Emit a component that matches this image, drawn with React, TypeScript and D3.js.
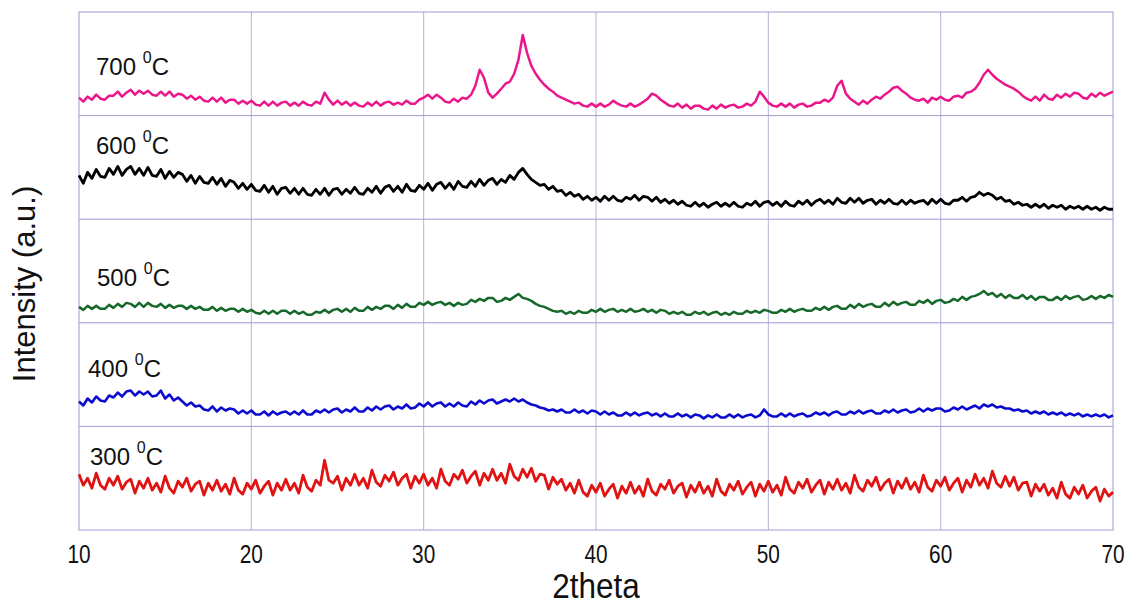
import React from 'react';
import * as d3 from 'd3';

// 2theta sampling: starts at 10°, every 0.25°, up to 70°
const THETA_START = 10;
const THETA_STEP = 0.25;
const xTicks = [10, 20, 30, 40, 50, 60, 70];
const panelLabels = ['700', '600', '500', '400', '300'];
const panelColors = ['#ec168c', '#000000', '#17692a', '#0b0bcf', '#e01212'];

const s700 = [
  18, 14, 19, 16, 21, 17, 16, 20, 20, 24, 19, 23, 26, 21, 25, 22, 25, 21, 20, 24,
  20, 24, 19, 22, 21, 17, 20, 16, 19, 15, 14, 18, 14, 18, 13, 16, 16, 12, 15, 12,
  15, 11, 10, 14, 10, 14, 10, 13, 14, 10, 13, 10, 14, 11, 10, 14, 12, 23, 16, 11,
  15, 11, 14, 10, 13, 10, 9, 13, 10, 14, 10, 13, 14, 11, 13, 11, 15, 12, 12, 16,
  18, 21, 17, 21, 18, 14, 13, 17, 14, 18, 17, 21, 30, 46, 38, 23, 18, 22, 27, 32,
  34, 42, 56, 81, 63, 50, 42, 36, 31, 27, 24, 20, 18, 16, 14, 12, 13, 10, 9, 12,
  9, 12, 9, 11, 15, 12, 10, 9, 12, 9, 11, 14, 17, 22, 20, 16, 13, 10, 9, 12,
  8, 11, 7, 10, 10, 7, 6, 10, 7, 11, 8, 10, 11, 8, 9, 12, 10, 14, 24, 19,
  13, 10, 9, 12, 9, 12, 8, 11, 12, 9, 10, 13, 13, 16, 14, 18, 30, 35, 22, 17,
  14, 11, 15, 12, 16, 19, 17, 21, 24, 28, 29, 25, 22, 18, 16, 15, 17, 13, 18, 16,
  19, 16, 15, 19, 20, 18, 23, 24, 27, 33, 41, 46, 41, 37, 34, 31, 29, 27, 24, 20,
  17, 15, 19, 15, 21, 17, 16, 21, 18, 22, 19, 23, 22, 18, 17, 22, 19, 23, 20, 22,
  24,
];

const s600 = [
  44, 36, 47, 41, 50, 43, 42, 51, 45, 53, 44, 50, 53, 45, 51, 44, 52, 44, 43, 50,
  41, 48, 42, 47, 45, 38, 44, 36, 43, 37, 36, 42, 35, 41, 33, 39, 37, 31, 36, 30,
  35, 29, 28, 34, 27, 33, 25, 31, 32, 26, 31, 25, 31, 25, 24, 30, 25, 31, 24, 30,
  31, 25, 30, 26, 32, 26, 25, 31, 27, 33, 26, 32, 34, 28, 33, 27, 35, 29, 28, 34,
  30, 36, 29, 35, 37, 31, 36, 30, 38, 33, 32, 38, 33, 40, 34, 39, 41, 35, 40, 37,
  44, 40, 47, 51, 45, 40, 37, 34, 35, 30, 33, 28, 29, 24, 27, 23, 25, 20, 23, 19,
  22, 18, 23, 19, 23, 19, 18, 22, 20, 24, 19, 23, 22, 18, 22, 17, 20, 16, 19, 15,
  18, 14, 13, 17, 13, 16, 12, 15, 17, 13, 16, 13, 17, 13, 12, 16, 14, 18, 13, 17,
  18, 14, 17, 13, 18, 14, 13, 18, 15, 19, 14, 18, 20, 16, 19, 15, 21, 17, 16, 21,
  17, 21, 16, 19, 20, 15, 19, 16, 20, 16, 15, 19, 15, 19, 16, 18, 19, 15, 20, 16,
  20, 16, 15, 19, 19, 22, 18, 22, 23, 27, 24, 26, 24, 20, 22, 18, 19, 15, 17, 14,
  15, 12, 15, 12, 15, 11, 14, 12, 14, 10, 13, 11, 13, 10, 13, 10, 12, 9, 12, 10,
  10,
];

const s500 = [
  16, 13, 17, 14, 17, 14, 14, 18, 15, 19, 16, 20, 19, 16, 20, 16, 20, 17, 16, 19,
  15, 18, 15, 17, 17, 14, 17, 14, 16, 13, 13, 16, 12, 15, 12, 14, 14, 11, 14, 11,
  13, 10, 9, 12, 9, 12, 9, 12, 12, 9, 12, 9, 11, 8, 8, 11, 10, 13, 10, 13,
  14, 11, 14, 11, 15, 12, 12, 16, 13, 16, 14, 17, 17, 14, 18, 15, 19, 16, 16, 20,
  18, 21, 18, 20, 21, 18, 20, 17, 20, 18, 19, 23, 21, 24, 22, 25, 25, 21, 22, 25,
  23, 26, 29, 25, 24, 22, 19, 17, 16, 14, 12, 11, 12, 9, 11, 9, 12, 10, 10, 13,
  11, 14, 11, 13, 14, 11, 13, 11, 14, 11, 12, 14, 11, 13, 10, 13, 12, 9, 11, 9,
  11, 8, 8, 11, 9, 11, 8, 10, 11, 8, 10, 8, 11, 9, 9, 12, 10, 12, 10, 13,
  12, 10, 10, 13, 11, 14, 11, 13, 14, 12, 12, 15, 13, 16, 13, 16, 17, 14, 14, 18,
  15, 19, 16, 18, 19, 16, 16, 20, 17, 21, 18, 20, 21, 18, 18, 22, 20, 23, 19, 22,
  23, 20, 21, 24, 22, 26, 23, 26, 27, 29, 32, 28, 30, 26, 29, 25, 28, 25, 25, 28,
  24, 27, 23, 26, 26, 23, 23, 26, 23, 27, 24, 26, 27, 23, 24, 27, 24, 27, 25, 28,
  26,
];

const s400 = [
  25, 21, 28, 24, 30, 26, 25, 31, 29, 34, 30, 35, 36, 31, 35, 32, 35, 30, 31, 36,
  28, 32, 26, 29, 25, 21, 24, 20, 21, 17, 16, 20, 15, 19, 16, 18, 17, 13, 16, 13,
  16, 12, 12, 15, 11, 15, 12, 14, 15, 12, 15, 12, 16, 12, 12, 16, 14, 17, 14, 17,
  18, 14, 17, 15, 19, 15, 15, 19, 16, 20, 17, 20, 21, 17, 20, 18, 22, 18, 19, 23,
  20, 24, 20, 23, 24, 20, 23, 20, 24, 21, 20, 25, 22, 26, 23, 26, 27, 23, 25, 27,
  25, 28, 25, 27, 24, 22, 21, 19, 18, 16, 17, 15, 17, 14, 14, 17, 14, 16, 13, 16,
  15, 12, 15, 12, 14, 11, 11, 14, 11, 14, 11, 13, 14, 11, 13, 10, 13, 10, 10, 13,
  10, 12, 9, 12, 11, 8, 11, 9, 12, 9, 9, 12, 9, 12, 9, 11, 12, 9, 11, 17,
  12, 10, 10, 13, 10, 13, 10, 12, 13, 10, 11, 14, 12, 14, 11, 14, 15, 12, 12, 15,
  13, 16, 13, 15, 16, 13, 13, 16, 14, 17, 14, 16, 17, 14, 15, 18, 15, 18, 16, 18,
  18, 15, 16, 19, 17, 20, 17, 19, 21, 18, 22, 20, 22, 19, 20, 18, 18, 16, 17, 15,
  16, 13, 15, 13, 15, 12, 14, 12, 14, 11, 13, 11, 13, 10, 12, 10, 12, 10, 12, 9,
  11,
];

const s300 = [
  56, 45, 52, 42, 57, 45, 41, 52, 45, 54, 41, 48, 51, 37, 49, 42, 52, 40, 47, 38,
  54, 42, 37, 49, 43, 52, 39, 46, 49, 35, 47, 40, 50, 39, 46, 36, 52, 40, 36, 47,
  41, 50, 37, 44, 49, 35, 47, 40, 51, 40, 47, 37, 55, 43, 39, 50, 45, 70, 50, 47,
  54, 40, 52, 45, 56, 45, 52, 42, 60, 48, 44, 55, 49, 58, 45, 52, 56, 42, 54, 47,
  56, 45, 52, 42, 61, 49, 45, 56, 51, 60, 47, 54, 59, 45, 57, 50, 61, 50, 57, 47,
  66, 54, 50, 61, 53, 62, 49, 56, 55, 41, 53, 46, 51, 40, 47, 37, 50, 38, 34, 45,
  38, 47, 34, 41, 46, 32, 44, 37, 48, 37, 44, 34, 51, 39, 35, 46, 41, 50, 37, 44,
  47, 33, 45, 38, 48, 37, 44, 34, 51, 39, 35, 46, 40, 49, 36, 43, 48, 34, 46, 39,
  49, 38, 45, 35, 53, 41, 37, 48, 42, 51, 38, 45, 50, 36, 48, 41, 51, 40, 47, 37,
  55, 43, 39, 50, 44, 53, 40, 47, 51, 37, 49, 42, 52, 41, 48, 38, 55, 43, 39, 50,
  44, 53, 40, 47, 52, 38, 50, 43, 56, 45, 52, 42, 59, 47, 43, 54, 44, 53, 40, 47,
  48, 34, 46, 39, 46, 35, 42, 32, 48, 36, 32, 43, 36, 45, 32, 39, 43, 29, 41, 34,
  38,
];

const seriesValues = [s700, s600, s500, s400, s300];

// layout
const W = 1130;
const H = 605;
const M = { left: 79, right: 1113, top: 12, bottom: 530 };
const labelOffsets = [
  { dx: 17, baseline: 75 },
  { dx: 17, baseline: 154 },
  { dx: 18, baseline: 286 },
  { dx: 9, baseline: 377 },
  { dx: 11, baseline: 465 },
];
const strokeWidths = [2.5, 2.8, 2.5, 2.6, 2.8];
const gridColor = '#b4b4dc';
const frameColor = '#9c9cd0';

export default function App() {
  const x = d3.scaleLinear().domain([10, 70]).range([M.left, M.right]);
  const n = seriesValues.length;
  const ph = (M.bottom - M.top) / n;

  return (
    <svg
      width={W}
      height={H}
      style={{ position: 'absolute', left: 0, top: 0, background: '#fff' }}
      fontFamily="'Liberation Sans', Arial, sans-serif"
    >
      <rect x={0} y={0} width={W} height={H} fill="#fff" />
      {xTicks.slice(1, -1).map((t) => (
        <line key={'g' + t} x1={x(t)} x2={x(t)} y1={M.top} y2={M.bottom} stroke={gridColor} strokeWidth={1} />
      ))}
      {d3.range(1, n).map((i) => (
        <line key={'s' + i} x1={M.left} x2={M.right} y1={M.top + i * ph} y2={M.top + i * ph} stroke={frameColor} strokeWidth={1} />
      ))}
      <rect x={M.left} y={M.top} width={M.right - M.left} height={M.bottom - M.top} fill="none" stroke={frameColor} strokeWidth={1} />

      {seriesValues.map((vals, i) => {
        const y = d3.scaleLinear().domain([0, 104]).range([M.top + (i + 1) * ph, M.top + i * ph]);
        const line = d3
          .line<number>()
          .x((_, j) => x(THETA_START + j * THETA_STEP))
          .y((d) => y(d));
        return (
          <path key={'p' + i} d={line(vals) || ''} fill="none" stroke={panelColors[i]} strokeWidth={strokeWidths[i]} strokeLinejoin="round" />
        );
      })}

      {panelLabels.map((lab, i) => (
        <text key={'l' + i} x={M.left + labelOffsets[i].dx} y={labelOffsets[i].baseline} fontSize={24} fill="#111">
          {lab + ' '}
          <tspan fontSize={16} dy={-12}>0</tspan>
          <tspan dy={12}>C</tspan>
        </text>
      ))}

      {xTicks.map((t) => (
        <text
          key={'t' + t}
          transform={`translate(${x(t)},${563}) scale(0.8,1)`}
          textAnchor="middle"
          fontSize={26}
          fill="#111"
        >
          {t}
        </text>
      ))}
      <text transform={`translate(${(M.left + M.right) / 2},${598}) scale(0.9,1)`} textAnchor="middle" fontSize={35} fill="#111">
        2theta
      </text>
      <text transform={`translate(35,${284}) rotate(-90)`} textAnchor="middle" fontSize={31} fill="#111">
        Intensity (a.u.)
      </text>
    </svg>
  );
}
